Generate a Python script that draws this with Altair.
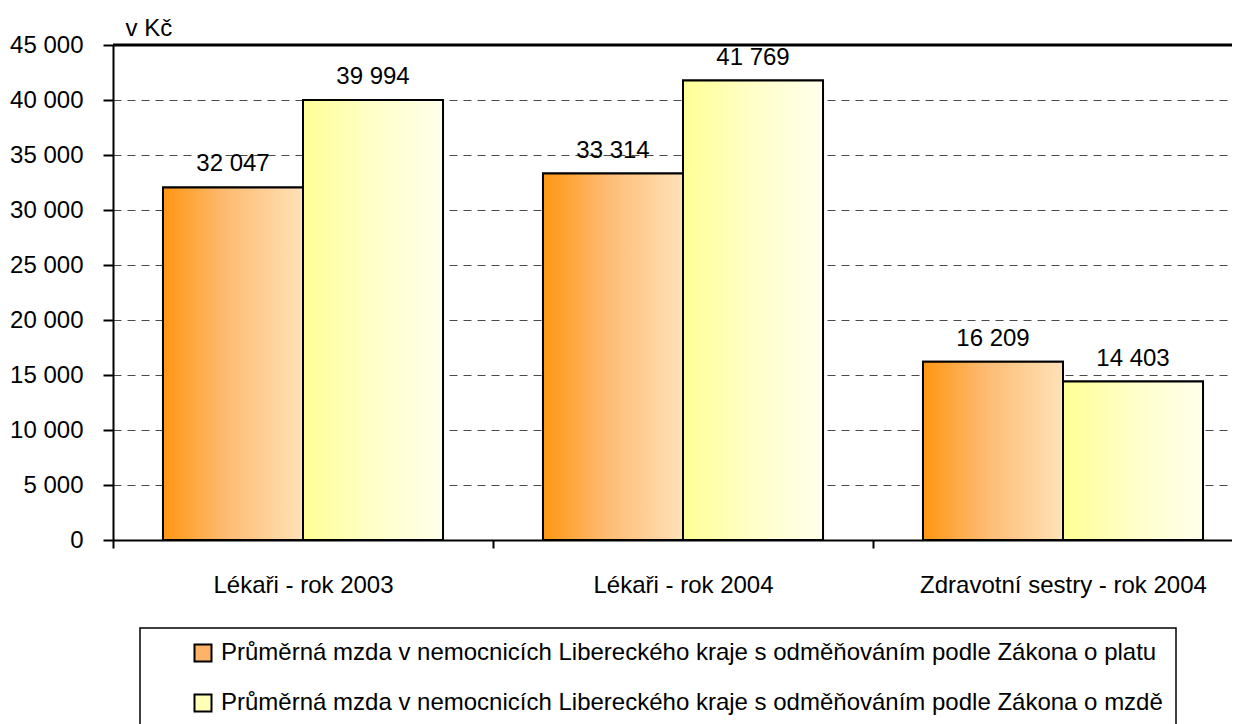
import altair as alt
import pandas as pd

categories = ["Lékaři - rok 2003", "Lékaři - rok 2004", "Zdravotní sestry - rok 2004"]
series = [
    "Průměrná mzda v nemocnicích Libereckého kraje s odměňováním podle Zákona o platu",
    "Průměrná mzda v nemocnicích Libereckého kraje s odměňováním podle Zákona o mzdě",
]
plat_values = [32047, 33314, 16209]
mzda_values = [39994, 41769, 14403]
y_ticks = list(range(0, 45001, 5000))

rows = []
for c, v in zip(categories, plat_values):
    rows.append({"cat": c, "series": series[0], "value": v})
for c, v in zip(categories, mzda_values):
    rows.append({"cat": c, "series": series[1], "value": v})
df = pd.DataFrame(rows)

FONT = "Liberation Sans"
FS = 24

x_enc = alt.X(
    "cat:N",
    sort=categories,
    scale=alt.Scale(domain=categories, range=[0, 1140], paddingInner=0, paddingOuter=0),
    axis=alt.Axis(
        title=None,
        labelAngle=0,
        tickBand="extent",
        ticks=True,
        tickSize=8,
        tickWidth=2,
        tickColor="black",
        domainColor="black",
        domainWidth=2,
        labelPadding=25,
        labelLimit=600,
        labelFont=FONT,
        labelFontSize=FS,
        labelColor="black",
        grid=False,
    ),
)
xo_enc = alt.XOffset(
    "series:N",
    sort=series,
    scale=alt.Scale(domain=series, paddingInner=0, paddingOuter=0.357),
)
y_enc = alt.Y(
    "value:Q",
    scale=alt.Scale(domain=[0, 45000], nice=False),
    axis=alt.Axis(
        title="v  Kč",
        titleAngle=0,
        titleAlign="left",
        titleBaseline="alphabetic",
        titleX=12,
        titleY=-10,
        titleFont=FONT,
        titleFontSize=FS,
        titleFontWeight="normal",
        titleColor="black",
        values=y_ticks,
        labelExpr="replace(format(datum.value, ','), ',', ' ')",
        labelFont=FONT,
        labelFontSize=FS,
        labelColor="black",
        labelPadding=20,
        tickSize=10,
        tickWidth=2,
        tickColor="black",
        domainColor="black",
        domainWidth=2,
        grid=True,
        gridDash=[8, 6],
        gridColor="#4a4a4a",
        gridWidth=1,
    ),
)

base = alt.Chart(df)

legend_layer = base.mark_bar(stroke="black", strokeWidth=2).encode(
    x=x_enc,
    xOffset=xo_enc,
    y=y_enc,
    color=alt.Color(
        "series:N",
        sort=series,
        scale=alt.Scale(domain=series, range=["#FDB468", "#FFFFB8"]),
        legend=alt.Legend(
            title=None,
            orient="none",
            legendX=27,
            legendY=583,
            direction="vertical",
            symbolType="square",
            symbolSize=289,
            symbolStrokeColor="black",
            symbolStrokeWidth=2,
            symbolOpacity=1,
            symbolOffset=38,
            labelFont=FONT,
            labelFontSize=FS,
            labelColor="black",
            labelLimit=2000,
            labelOffset=6,
            rowPadding=24,
            padding=13,
            strokeColor="black",
            fillColor="white",
        ),
    ),
)

grad_orange = alt.Gradient(
    gradient="linear",
    x1=0, x2=1, y1=0, y2=0,
    stops=[
        alt.GradientStop(color="#FF9612", offset=0),
        alt.GradientStop(color="#FDBB72", offset=0.45),
        alt.GradientStop(color="#FFE2B8", offset=1),
    ],
)
grad_yellow = alt.Gradient(
    gradient="linear",
    x1=0, x2=1, y1=0, y2=0,
    stops=[
        alt.GradientStop(color="#FFFF96", offset=0),
        alt.GradientStop(color="#FFFFC8", offset=0.5),
        alt.GradientStop(color="#FFFFEC", offset=1),
    ],
)

bars_plat = base.transform_filter(alt.datum.series == series[0]).mark_bar(
    fill=grad_orange, stroke="black", strokeWidth=2
).encode(x=x_enc, xOffset=xo_enc, y=y_enc)

bars_mzda = base.transform_filter(alt.datum.series == series[1]).mark_bar(
    fill=grad_yellow, stroke="black", strokeWidth=2
).encode(x=x_enc, xOffset=xo_enc, y=y_enc)

labels = base.transform_calculate(
    label="replace(format(datum.value, ','), ',', ' ')"
).mark_text(
    baseline="bottom", dy=-11, font=FONT, fontSize=FS, color="black"
).encode(x=x_enc, xOffset=xo_enc, y=y_enc, text="label:N")

top_rule = alt.Chart(pd.DataFrame({"top": [45000]})).mark_rule(
    color="black", strokeWidth=3
).encode(y=alt.Y("top:Q", scale=alt.Scale(domain=[0, 45000], nice=False)))

chart = alt.layer(legend_layer, bars_plat, bars_mzda, labels, top_rule).properties(
    width=1119,
    height=495,
    autosize=alt.AutoSizeParams(type="none"),
    padding={"left": 105, "top": 37, "right": 0, "bottom": 184},
).configure_view(stroke=None).configure(background="white").configure_legend(strokeWidth=1.5)

chart.save("out.html", embed_options={"renderer": "svg", "actions": False})
